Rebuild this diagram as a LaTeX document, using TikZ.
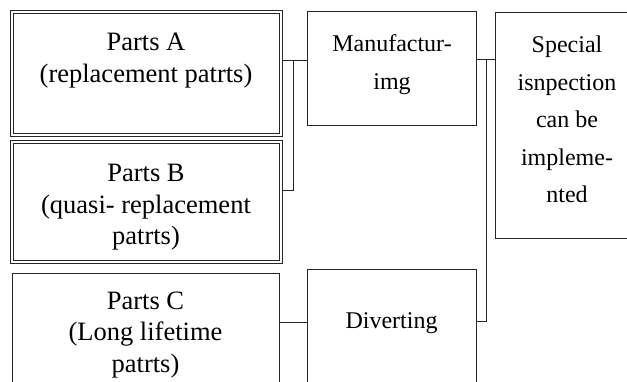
\documentclass[tikz,border=0pt]{standalone}
\usepackage{fontspec}
\setmainfont{Liberation Serif}
\newcommand\mylines[1]{\begin{tabular}[t]{@{}c@{}}#1\end{tabular}}
\tikzset{
  box/.style={draw=black!85, line width=1pt, rectangle, inner sep=0pt, outer sep=0pt, anchor=north west},
  dblbox/.style={draw=black!85, line width=0.9pt, rectangle, inner sep=0pt, outer sep=0pt, anchor=north west},
  inner/.style={draw=black!85, line width=0.9pt},
  txtL/.style={inner sep=0pt, anchor=base, font=\fontsize{26.5}{31.5}\selectfont},
  txtR/.style={inner sep=0pt, anchor=base, font=\fontsize{24}{37.5}\selectfont},
  conn/.style={draw=black!85, line width=1pt}
}
\begin{document}
\begin{tikzpicture}[x=1pt,y=-1pt]
\useasboundingbox (0,0) rectangle (627,382);
\clip (0,0) rectangle (627,382);
% boxes
\node[dblbox, minimum width=271.5pt, minimum height=125.5pt] (a) at (10.5,10.5) {};
\draw[inner] ([xshift=3pt,yshift=-3pt]a.north west) rectangle ([xshift=-3pt,yshift=3pt]a.south east);
\node[dblbox, minimum width=271.5pt, minimum height=123pt] (b) at (10.5,140.5) {};
\draw[inner] ([xshift=3pt,yshift=-3pt]b.north west) rectangle ([xshift=-3pt,yshift=3pt]b.south east);
\node[box, minimum width=267pt, minimum height=130pt] (c) at (12,274) {};
\node[box, minimum width=169pt, minimum height=114pt] (mfg) at (307,12) {};
\node[box, minimum width=150pt, minimum height=226pt] (spec) at (495,12.5) {};
\node[box, minimum width=169pt, minimum height=130pt] (div) at (307,270) {};
% texts
\node[txtL] (ta) at (146,51) {\mylines{Parts A\\(replacement patrts)}};
\node[txtL] (tb) at (146,182) {\mylines{Parts B\\(quasi- replacement\\patrts)}};
\node[txtL] (tc) at (145.5,309.5) {\mylines{Parts C\\(Long lifetime\\patrts)}};
\node[txtR] (tm) at (392,52) {\mylines{Manufactur-\\img}};
\node[txtR] (ts) at (567,53) {\mylines{Special\\isnpection\\can be\\impleme-\\nted}};
\node[txtR] (td) at (391.5,328) {Diverting};
% connectors
\coordinate (j1) at (293,61);
\coordinate (jb) at (293,191);
\coordinate (j2) at (486,60);
\coordinate (j3) at (486,322);
\coordinate (jc) at (293,323);
\draw[conn] (a.east |- j1) -- (mfg.west |- j1);
\draw[conn] (j1) -- (jb) -- (b.east |- jb);
\draw[conn] (mfg.east |- j2) -- (spec.west |- j2);
\draw[conn] (j2) -- (j3) -- (div.east |- j3);
\draw[conn] (c.east |- jc) -- (div.west |- jc);
\end{tikzpicture}
\end{document}
